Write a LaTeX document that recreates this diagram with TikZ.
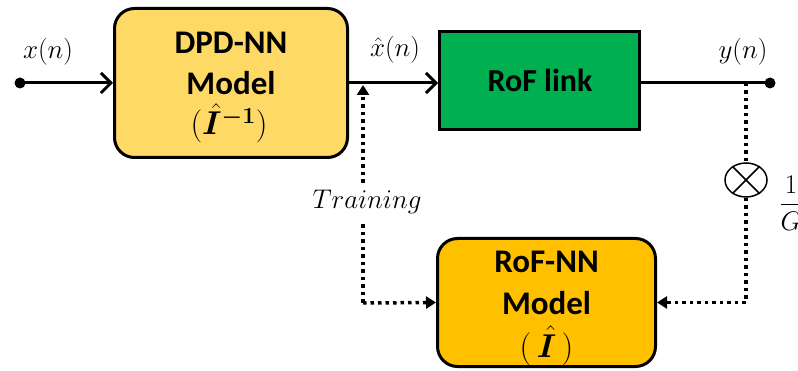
\RequirePackage{fix-cm}
\documentclass[tikz,border=0pt]{standalone}
\usepackage{amsmath}
\usepackage{bm}
\usepackage{fontspec}
\newfontfamily\boxfont{Carlito}
\usetikzlibrary{arrows.meta,shapes.geometric}
\definecolor{dpdc}{RGB}{255,217,102}
\definecolor{rofnnc}{RGB}{255,192,0}
\definecolor{linkc}{RGB}{0,176,80}
\begin{document}
\begin{tikzpicture}[x=1pt,y=-1pt,
 blk/.style={draw=black, line width=3pt, rounded corners=20pt, inner sep=0pt},
 btxt/.style={font=\boxfont\bfseries\fontsize{33}{41}\selectfont, inner sep=0pt, anchor=base},
 sig/.style={line width=3pt, -{Straight Barb[length=10pt,width=20pt,line width=3pt]}},
 dotline/.style={line width=3.5pt, dash pattern=on 3.5pt off 4pt},
 dots/.style={dotline, -{Triangle[length=10pt,width=12pt]}},
 lbl/.style={font=\fontsize{27}{30}\selectfont, inner sep=1pt},
 term/.style={circle, fill=black, inner sep=0pt, minimum size=11pt}]
\useasboundingbox (0,0) rectangle (798,371);

\node[blk, fill=dpdc, minimum width=233pt, minimum height=149pt] (dpd) at (231,83) {};
\node[btxt] (dpd1) at (231,54) {DPD-NN};
\node[btxt] (dpd2) at (231,95) {Model};
\node[btxt] (dpd3) at (229,135) {$(\hat{\bm{I}}^{\bm{-1}})$};

\node[blk, fill=linkc, rounded corners=0pt, minimum width=200pt, minimum height=98pt] (link) at (539.5,81) {};
\node[btxt, font=\boxfont\bfseries\fontsize{32}{38}\selectfont] (linktxt) at (540,92) {RoF link};

\node[blk, fill=rofnnc, minimum width=218pt, minimum height=128pt] (rofnn) at (546.5,302.5) {};
\node[btxt] (rofnn1) at (546.5,273) {RoF-NN};
\node[btxt] (rofnn2) at (546.5,315) {Model};
\node[btxt] (rofnn3) at (546.5,357) {$(\,\hat{\bm{I}}\,)$};

\node[term] (in) at (20,83) {};
\node[term] (out) at (770,83) {};
\coordinate (tap) at (746,83);
\coordinate (trtop) at (363,85);
\coordinate (trbot) at (363,303);

\draw[sig] (in.center) -- (dpd.west);
\draw[sig] (dpd.east) -- (dpd.east -| link.west);
\draw[line width=3pt] (link.east |- out) -- (out.center);

\node[ellipse, draw, line width=1.5pt, minimum width=42pt, minimum height=34pt, inner sep=0pt] (mult) at (746,180) {};
\draw[line width=1.5pt] (mult.45) -- (mult.225) (mult.135) -- (mult.315);

\draw[dotline] (tap) -- (mult.north);
\draw[dots] (mult.south) |- (rofnn.east);
\draw[dots] (trbot) -- (trtop);
\draw[dots] (trbot) -- (rofnn.west);

\node[lbl] (xl) at (48,52) {$x(n)$};
\node[lbl] (xh) at (395,50) {$\hat{x}(n)$};
\node[lbl] (yl) at (743,52) {$y(n)$};
\node[lbl, fill=white, inner ysep=6pt] (trl) at (367,202) {$Training$};
\node[lbl] (gl) at (791,203) {$\dfrac{1}{G}$};
\end{tikzpicture}
\end{document}
